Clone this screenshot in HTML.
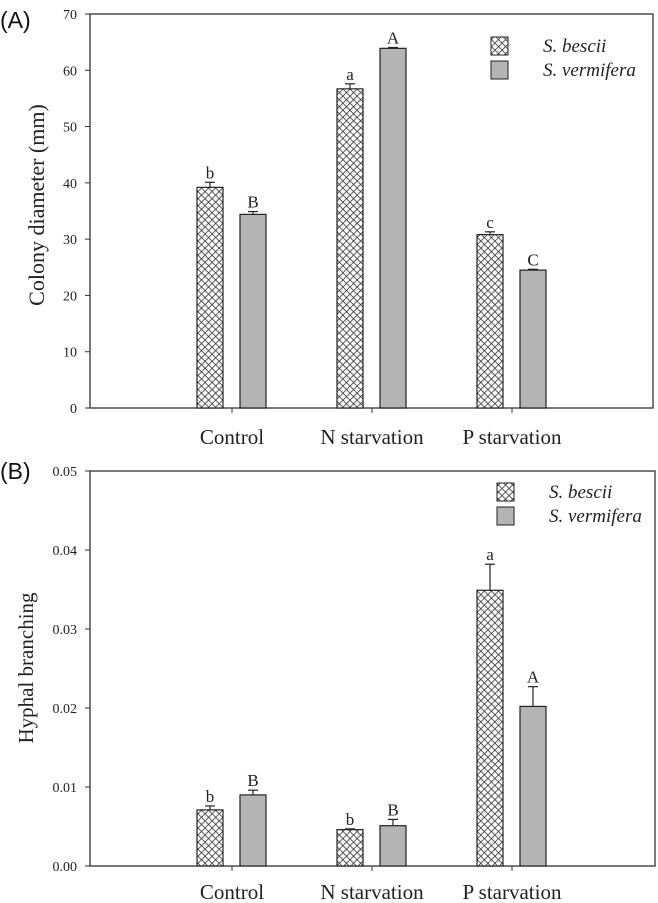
<!DOCTYPE html>
<html><head><meta charset="utf-8"><style>
html,body{margin:0;padding:0;background:#fff;}
svg{display:block;font-family:"Liberation Serif",serif;}
</style></head><body>
<svg id="fig" width="658" height="903" viewBox="0 0 658 903">
<defs>
<pattern id="hatch" width="5" height="5" patternUnits="userSpaceOnUse" patternTransform="rotate(45)">
<rect width="5" height="5" fill="#fff"/>
<line x1="0" y1="0" x2="0" y2="5" stroke="#333" stroke-width="1.6"/>
<line x1="0" y1="0" x2="5" y2="0" stroke="#333" stroke-width="1.6"/>
</pattern>
</defs>
</svg>
<script>
const categories = ["Control","N starvation","P starvation"];
const seriesNames = ["S. bescii","S. vermifera"];
const aBescii = [39.2, 56.7, 30.8];
const aBesciiErr = [0.9, 0.9, 0.5];
const aVermifera = [34.4, 63.9, 24.5];
const aVermiferaErr = [0.5, 0.15, 0.15];
const aLettersB = ["b","a","c"];
const aLettersV = ["B","A","C"];
const aTicks = [0,10,20,30,40,50,60,70];
const bBescii = [0.0071, 0.0046, 0.0349];
const bBesciiErr = [0.0005, 0.0001, 0.0033];
const bVermifera = [0.0090, 0.0051, 0.0202];
const bVermiferaErr = [0.0006, 0.0008, 0.0025];
const bLettersB = ["b","b","a"];
const bLettersV = ["B","B","A"];
const bTicks = [0.00,0.01,0.02,0.03,0.04,0.05];

const svg = document.getElementById('fig');
const NS = 'http://www.w3.org/2000/svg';
const SERIF = '"Liberation Serif", serif';
function mk(tag, attrs, parent){
  const e = document.createElementNS(NS, tag);
  for (const k in attrs) e.setAttribute(k, attrs[k]);
  (parent||svg).appendChild(e);
  return e;
}

function panel(p){
  const g = mk('g', {});
  
  
  const y = v => p.y0 - v / p.max * (p.y0 - p.yTop);
  const xc = i => 232 + i*140;
  const fr = mk('rect', {x:90, y:p.yTop, width:p.right-90, height:p.y0-p.yTop, fill:'none', stroke:'#333', 'stroke-width':1.3}, g);
  
  
  p.ticks.forEach(t => {
    const yy = y(t);
    mk('line', {x1:85, x2:90, y1:yy, y2:yy, stroke:'#333', 'stroke-width':1}, g);
    const tx = mk('text', {x:77, y:yy+5, 'text-anchor':'end', 'font-size':14, fill:'#222', 'font-family':SERIF}, g);
    tx.textContent = p.fmt(t);
    
    
  });
  const yt = mk('text', {x:0, y:0, transform:`translate(${p.titleX},${p.titleY}) rotate(-90)`, 'text-anchor':'middle', 'font-size':p.titleSize, fill:'#222', 'font-family':SERIF}, g);
  yt.textContent = p.title;
  
  
  categories.forEach((c,i) => {
    mk('line', {x1:xc(i), x2:xc(i), y1:p.y0, y2:p.y0+5, stroke:'#333', 'stroke-width':1}, g);
    const t = mk('text', {x:xc(i), y:p.catY, 'text-anchor':'middle', 'font-size':21, fill:'#222', 'font-family':SERIF}, g);
    t.textContent = c;
    
    
  });
  const series = [
    {vals:p.b, err:p.be, fill:'url(#hatch)', off:-35, letters:p.lb, name:'bar-s-bescii'},
    {vals:p.v, err:p.ve, fill:'#b4b4b4', off:8, letters:p.lv, name:'bar-s-vermifera'}
  ];
  series.forEach(s => {
    s.vals.forEach((v,i) => {
      const x = xc(i) + s.off, w = 26;
      const top = y(v);
      const r = mk('rect', {x:x, y:top, width:w, height:p.y0-top, fill:s.fill, stroke:'#222', 'stroke-width':1.2}, g);
      
      
      const et = y(v + s.err[i]);
      mk('line', {x1:x+w/2, x2:x+w/2, y1:top, y2:et, stroke:'#222', 'stroke-width':1.2}, g);
      mk('line', {x1:x+w/2-5, x2:x+w/2+5, y1:et, y2:et, stroke:'#222', 'stroke-width':1.2}, g);
      const lt = mk('text', {x:x+w/2, y:et-4, 'text-anchor':'middle', 'font-size':17, fill:'#222', 'font-family':SERIF}, g);
      lt.textContent = s.letters[i];
      
      
    });
  });
  const fills = ['url(#hatch)', '#b4b4b4'];
  seriesNames.forEach((n,i) => {
    const ly = p.legY + i*24;
    const r = mk('rect', {x:p.legX, y:ly, width:17, height:18, fill:fills[i], stroke:'#222', 'stroke-width':1}, g);
    
    
    const t = mk('text', {x:p.legX+52, y:ly+15, 'font-size':19, 'font-style':'italic', fill:'#222', 'font-family':SERIF}, g);
    t.textContent = n;
    
    
  });
  const pl = mk('text', {x:0, y:p.labY, 'font-size':23, fill:'#111', 'font-family':'"Liberation Sans", sans-serif'}, g);
  pl.textContent = p.label;
  
  
}

panel({name:'panel-a', yTop:14, y0:408, right:653, max:70, ticks:aTicks, fmt:t=>String(t),
  title:'Colony diameter (mm)', titleSize:22, titleX:44, titleY:205, catY:444,
  b:aBescii, be:aBesciiErr, v:aVermifera, ve:aVermiferaErr, lb:aLettersB, lv:aLettersV,
  legX:491, legY:37, label:'(A)', labY:28});
panel({name:'panel-b', yTop:471, y0:866, right:655, max:0.05, ticks:bTicks, fmt:t=>t.toFixed(2),
  title:'Hyphal branching', titleSize:21, titleX:33, titleY:668, catY:899,
  b:bBescii, be:bBesciiErr, v:bVermifera, ve:bVermiferaErr, lb:bLettersB, lv:bLettersV,
  legX:497, legY:483, label:'(B)', labY:479});
</script>
</body></html>
